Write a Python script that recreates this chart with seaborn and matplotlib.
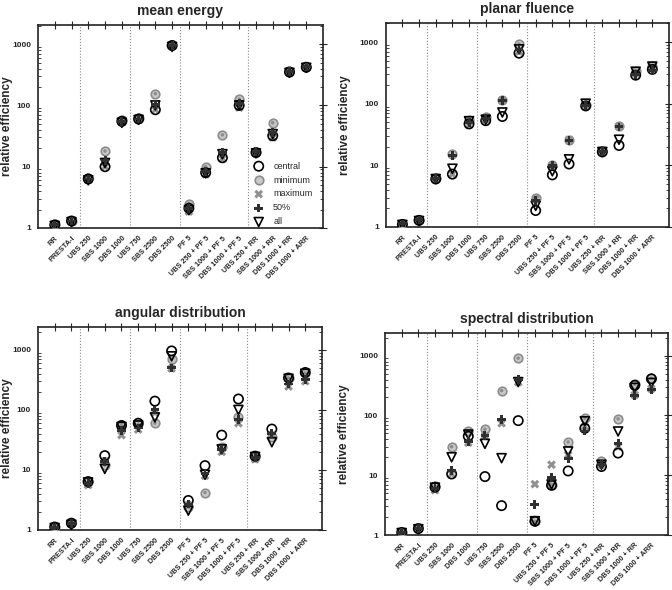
import numpy as np
import pandas as pd
import matplotlib
matplotlib.use("Agg")
import matplotlib.pyplot as plt
import matplotlib.ticker as mticker
import seaborn as sns

categories = ["RR", "PRESTA-I", "UBS 250", "SBS 1000", "DBS 1000", "UBS 750",
              "SBS 2500", "DBS 2500", "PF 5", "UBS 250 + PF 5", "SBS 1000 + PF 5",
              "DBS 1000 + PF 5", "UBS 250 + RR", "SBS 1000 + RR", "DBS 1000 + RR",
              "DBS 1000 + ARR"]

# mean energy
me_central = [1.12, 1.3, 6.3, 10, 55, 60, 85, 950, 2.1, 8, 14, 100, 17, 32, 350, 420]
me_minimum = [1.15, 1.32, 6.5, 18, 57, 62, 155, 970, 2.5, 10, 33, 127, 17.5, 52, 370, 430]
me_maximum = [1.1, 1.28, 6.1, 10, 53, 58, 85, 930, 1.85, 7.5, 13.5, 92, 16.5, 30, 340, 410]
me_p50 = [1.12, 1.3, 6.3, 12.5, 55, 60, 103, 950, 2.05, 8.3, 17, 107, 17.5, 36, 355, 425]
me_all = [1.08, 1.25, 6.0, 11.5, 52, 58, 100, 900, 1.95, 7.8, 16, 100, 16.5, 34, 340, 410]

# planar fluence
pf_central = [1.1, 1.28, 6.0, 7.2, 47, 53, 62, 660, 1.85, 7.0, 10.5, 92, 16.5, 21, 290, 360]
pf_minimum = [1.12, 1.3, 6.2, 15, 55, 60, 115, 930, 3.0, 10, 26, 95, 17, 43, 340, 410]
pf_maximum = [1.1, 1.28, 6.0, 7.2, 45, 55, 113, 700, 2.9, 9.5, 26, 92, 16.5, 43, 310, 380]
pf_p50 = [1.12, 1.3, 6.1, 14.5, 50, 57, 113, 750, 2.7, 9.8, 25.5, 93, 16.8, 42, 300, 350]
pf_all = [1.08, 1.25, 6.0, 8.8, 52, 55, 72, 760, 2.2, 8.0, 12.5, 100, 16.5, 26, 330, 400]

# angular distribution
ad_central = [1.12, 1.3, 6.4, 17.3, 55, 60, 140, 960, 3.1, 11.8, 38, 152, 17, 48, 340, 420]
ad_minimum = [1.12, 1.3, 6.2, 12, 55, 58, 60, 700, 2.4, 4.2, 24, 75, 16.5, 35, 340, 410]
ad_maximum = [1.1, 1.25, 5.6, 14, 38, 47, 90, 490, 2.6, 8, 20, 60, 15, 38, 245, 300]
ad_p50 = [1.12, 1.28, 6.0, 13.8, 45, 50, 100, 500, 2.7, 8.7, 22, 70, 16, 40, 270, 320]
ad_all = [1.08, 1.22, 6.2, 10.4, 52, 55, 75, 780, 2.1, 8.3, 22, 100, 16.5, 29, 330, 400]

# spectral distribution
sd_central = [1.1, 1.28, 6.3, 10.5, 45, 9.5, 3.1, 82, 1.7, 6.8, 11.8, 61, 14, 23.5, 320, 410]
sd_minimum = [1.12, 1.3, 6.6, 30, 54, 59, 260, 910, 1.7, 7, 36, 90, 17, 88, 330, 420]
sd_maximum = [1.1, 1.28, 5.6, 10.5, 35, 45, 74, 360, 7.1, 15, 22, 65, 15, 30, 220, 280]
sd_p50 = [1.12, 1.3, 6.0, 12, 37, 46, 85, 395, 3.25, 9.3, 19, 55, 15, 34.5, 215, 270]
sd_all = [1.08, 1.25, 6.2, 20, 48, 33.5, 19.3, 362, 1.7, 7, 25, 80, 15, 54, 290, 350]

separators = [1.5, 4.5, 7.5, 11.5]

sns.set_style("white")
plt.rcParams['font.family'] = ['Liberation Sans', 'DejaVu Sans']


def draw_panel(ax, title, central, minimum, maximum, p50, all_, ymax, label_x, legend=False):
    x = np.arange(len(categories))
    for sx in separators:
        ax.axvline(sx, color='#888888', ls=':', lw=0.8, zorder=1)

    # minimum: grey disc with darker centre
    sns.scatterplot(x=x, y=minimum, ax=ax, marker='o', s=38, color='#c8c8c8',
                    edgecolor='#8c8c8c', linewidth=1.2, zorder=3, label='minimum')
    sns.scatterplot(x=x, y=minimum, ax=ax, marker='o', s=6, color='#8c8c8c',
                    edgecolor='none', zorder=3)
    # maximum: grey cross
    sns.scatterplot(x=x, y=maximum, ax=ax, marker='X', s=40, color='#909090',
                    edgecolor='none', zorder=4, label='maximum')
    # central: open circle
    sns.scatterplot(x=x, y=central, ax=ax, marker='o', s=45, facecolor='none',
                    edgecolor='black', linewidth=1.2, zorder=5, label='central')
    # all: open down triangle
    sns.scatterplot(x=x, y=all_, ax=ax, marker='v', s=42, facecolor='none',
                    edgecolor='black', linewidth=1.2, zorder=5, label='all')
    # 50%: dark plus
    sns.scatterplot(x=x, y=p50, ax=ax, marker='P', s=40, color='#303030',
                    edgecolor='none', zorder=6, label='50%')

    ax.set_yscale('log')
    ax.set_ylim(1, ymax)
    ax.set_xlim(-1, 16)
    ax.yaxis.set_major_locator(mticker.FixedLocator([1, 10, 100, 1000]))
    ax.yaxis.set_major_formatter(mticker.FixedFormatter(['1', '10', '100', '1000']))
    ax.yaxis.set_minor_locator(mticker.LogLocator(base=10, subs=np.arange(2, 10)))
    ax.yaxis.set_minor_formatter(mticker.NullFormatter())
    ax.set_xticks(x)
    ax.set_xticklabels(categories, rotation=45, ha='right', rotation_mode='anchor',
                       fontsize=5.2, fontweight='bold')
    ax.tick_params(axis='both', which='major', direction='inout', length=6, width=0.8,
                   top=True, right=True, pad=2)
    ax.tick_params(axis='y', which='major', labelsize=6)
    ax.tick_params(axis='y', which='minor', direction='in', length=2.5, width=0.6,
                   left=True, right=True)
    for lbl in ax.get_yticklabels():
        lbl.set_fontweight('bold')
    for sp in ax.spines.values():
        sp.set_linewidth(1.2)
        sp.set_color('#222222')
    ax.set_ylabel('relative efficiency', fontsize=8.5, fontweight='bold')
    ax.yaxis.set_label_coords(label_x, 0.5)
    ax.set_xlabel('')
    ax.set_title(title, fontsize=10, fontweight='bold', pad=7)

    if legend:
        h, l = ax.get_legend_handles_labels()
        order = ['central', 'minimum', 'maximum', '50%', 'all']
        hd = dict(zip(l, h))
        ax.legend([hd[k] for k in order], order, loc='upper left',
                  bbox_to_anchor=(0.73, 0.345), frameon=False, fontsize=6.5,
                  handletextpad=0.6, labelspacing=0.55, borderaxespad=0)
    else:
        if ax.get_legend() is not None:
            ax.get_legend().remove()


fig = plt.figure(figsize=(6.72, 5.9), dpi=100)
ax1 = fig.add_axes([0.0565, 0.6136, 0.4242, 0.344])
ax2 = fig.add_axes([0.574, 0.6153, 0.4215, 0.346])
ax3 = fig.add_axes([0.0565, 0.1017, 0.4226, 0.344])
ax4 = fig.add_axes([0.573, 0.0932, 0.4211, 0.3424])

draw_panel(ax1, 'mean energy', me_central, me_minimum, me_maximum, me_p50, me_all, 2050, -0.088, legend=True)
draw_panel(ax2, 'planar fluence', pf_central, pf_minimum, pf_maximum, pf_p50, pf_all, 2050, -0.124)
draw_panel(ax3, 'angular distribution', ad_central, ad_minimum, ad_maximum, ad_p50, ad_all, 2400, -0.088)
draw_panel(ax4, 'spectral distribution', sd_central, sd_minimum, sd_maximum, sd_p50, sd_all, 2400, -0.124)

fig.savefig('out.png', dpi=100)
